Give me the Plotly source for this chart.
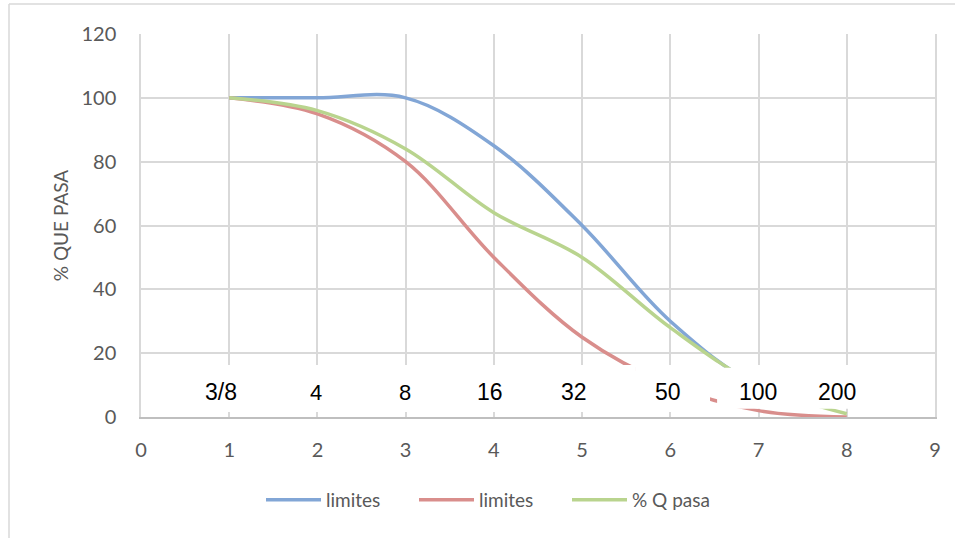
import plotly.graph_objects as go

x_idx = [1, 2, 3, 4, 5, 6, 7, 8]
sieve_labels = ["3/8", "4", "8", "16", "32", "50", "100", "200"]
limite_sup = [100, 100, 100, 85, 60, 30, 10, 5]
limite_inf = [100, 95, 80, 50, 25, 10, 2, 0]
q_pasa = [100, 96, 84, 64, 50, 28, 10, 1]

series_names = ["limites", "limites", "% Q pasa"]
colors = ["#82a6d6", "#d98e8c", "#b9d48e"]

fig = go.Figure()
for name, ys, c in zip(series_names, [limite_sup, limite_inf, q_pasa], colors):
    fig.add_trace(go.Scatter(
        x=x_idx, y=ys, name=name, mode="lines",
        line=dict(color=c, width=3.5, shape="spline", smoothing=1.0),
    ))

# white label boxes covering part of the plot (as in the source image)
boxes = [
    (0.012, 5.60, 1.6, 16.3),
    (5.60, 6.45, 1.6, 16.3),
    (6.53, 9.02, 2.7, 15.4),
    (6.75, 9.02, 2.7, 16.3),
]
shapes = []
for x0, x1, y0, y1 in boxes:
    shapes.append(dict(type="rect", xref="x", yref="y", x0=x0, x1=x1, y0=y0, y1=y1,
                       fillcolor="white", line=dict(width=0), layer="above"))

# outer chart border
L, T = 141, 34
W, H = 794, 383
px = lambda p: (p - L) / W
py = lambda p: 1 - (p - T) / H
shapes.append(dict(type="line", xref="paper", yref="paper", x0=px(9), x1=px(9), y0=py(4), y1=py(540),
                   line=dict(color="#d9d9d9", width=1.5)))
shapes.append(dict(type="line", xref="paper", yref="paper", x0=px(9), x1=px(956), y0=py(4), y1=py(4),
                   line=dict(color="#d9d9d9", width=1.5)))

label_shift = [-8, -1, -1, -4, -8, -2, -1, -10]
label_size = [23, 22, 22, 23, 23, 23, 23, 23]
annotations = []
for i, lab in enumerate(sieve_labels):
    annotations.append(dict(x=x_idx[i], y=7.8, xref="x", yref="y", text=lab, showarrow=False,
                            xshift=label_shift[i],
                            font=dict(family="Liberation Sans, Arial", size=label_size[i], color="black")))

tickfont = dict(family="Lato, Open Sans", size=20, color="#595959")
fig.update_layout(
    width=955, height=538,
    margin=dict(l=L, r=955 - 935, t=T, b=538 - 417),
    paper_bgcolor="white", plot_bgcolor="white",
    shapes=shapes, annotations=annotations,
    xaxis=dict(range=[0, 9], dtick=1, tick0=0, showgrid=True, gridcolor="#d9d9d9", gridwidth=1.5,
               zeroline=False, showline=True, linecolor="#bfbfbf", linewidth=1.5,
               tickfont=tickfont, ticks="", ticklabelstandoff=14),
    yaxis=dict(range=[0, 120], dtick=20, tick0=0, showgrid=True, gridcolor="#d9d9d9", gridwidth=1.5,
               zeroline=False, showline=True, mirror=True, linecolor="#d9d9d9", linewidth=1.5,
               tickfont=tickfont, ticks="", ticklabelstandoff=19,
               title=dict(text="% QUE PASA", font=dict(family="Lato, Open Sans", size=19, color="#595959"),
                          standoff=8)),
    legend=dict(orientation="h", x=px(261), xanchor="left", y=py(500), yanchor="middle",
                font=dict(family="Lato, Open Sans", size=19, color="#595959"),
                itemwidth=55, entrywidth=83, entrywidthmode="pixels",
                bgcolor="rgba(0,0,0,0)"),
    showlegend=True,
)
fig.write_html("out.html")
